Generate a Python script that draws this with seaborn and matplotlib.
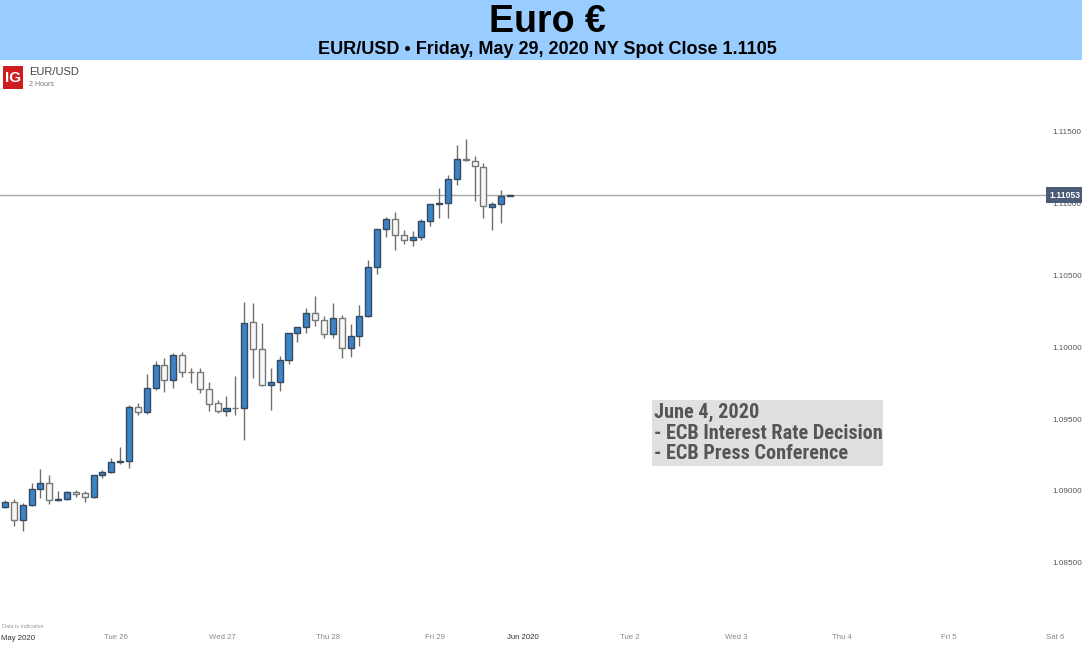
import pandas as pd
import seaborn as sns
import matplotlib.pyplot as plt
from matplotlib.patches import Rectangle

# EUR/USD 2-hour candles
opens = [1.08889, 1.08924, 1.08799, 1.08903, 1.09014, 1.09056, 1.08938, 1.08944, 1.08993, 1.08986,
         1.08958, 1.09111, 1.09132, 1.09201, 1.09208, 1.09583, 1.09549, 1.09715, 1.09875, 1.09771,
         1.09944, 1.09826, 1.09823, 1.09708, 1.09611, 1.09556, 1.09576, 1.09573, 1.10174, 1.09986,
         1.09736, 1.09757, 1.09910, 1.10097, 1.10139, 1.10236, 1.10188, 1.10090, 1.10201, 1.09993,
         1.10076, 1.10215, 1.10556, 1.10819, 1.10889, 1.10778, 1.10743, 1.10764, 1.10875, 1.10993,
         1.11000, 1.11167, 1.11306, 1.11292, 1.11250, 1.10972, 1.10993, 1.11049]
highs = [1.08938, 1.08944, 1.08917, 1.09056, 1.09153, 1.09111, 1.09000, 1.09000, 1.09007, 1.09000,
         1.09111, 1.09146, 1.09229, 1.09306, 1.09597, 1.09611, 1.09813, 1.09903, 1.09924, 1.09958,
         1.09965, 1.09854, 1.09854, 1.09757, 1.09632, 1.09660, 1.09799, 1.10313, 1.10306, 1.10167,
         1.09854, 1.09938, 1.10097, 1.10139, 1.10271, 1.10354, 1.10215, 1.10306, 1.10222, 1.10160,
         1.10292, 1.10604, 1.10819, 1.10903, 1.10938, 1.10813, 1.10806, 1.10889, 1.10993, 1.11104,
         1.11194, 1.11403, 1.11444, 1.11326, 1.11278, 1.11007, 1.11090, 1.11053]
lows = [1.08882, 1.08757, 1.08722, 1.08896, 1.08951, 1.08910, 1.08931, 1.08938, 1.08958, 1.08924,
        1.08951, 1.09090, 1.09125, 1.09188, 1.09160, 1.09528, 1.09535, 1.09701, 1.09688, 1.09715,
        1.09792, 1.09750, 1.09681, 1.09556, 1.09542, 1.09521, 1.09528, 1.09354, 1.09785, 1.09729,
        1.09563, 1.09694, 1.09882, 1.10035, 1.10097, 1.10146, 1.10063, 1.10063, 1.09924, 1.09931,
        1.10007, 1.10208, 1.10507, 1.10764, 1.10674, 1.10715, 1.10701, 1.10743, 1.10840, 1.10896,
        1.10896, 1.11125, 1.11292, 1.11014, 1.10896, 1.10813, 1.10861, 1.11049]
closes = [1.08924, 1.08799, 1.08903, 1.09014, 1.09056, 1.08938, 1.08944, 1.08993, 1.08979, 1.08958,
          1.09111, 1.09132, 1.09201, 1.09208, 1.09583, 1.09549, 1.09715, 1.09875, 1.09771, 1.09944,
          1.09826, 1.09823, 1.09708, 1.09604, 1.09556, 1.09576, 1.09573, 1.10167, 1.09986, 1.09736,
          1.09757, 1.09910, 1.10097, 1.10139, 1.10236, 1.10188, 1.10090, 1.10201, 1.09993, 1.10076,
          1.10215, 1.10556, 1.10819, 1.10889, 1.10778, 1.10743, 1.10764, 1.10875, 1.10993, 1.11000,
          1.11167, 1.11306, 1.11299, 1.11257, 1.10979, 1.10993, 1.11049, 1.11053]

last_price = 1.11053

# day labels, positioned in candle-index units (12 candles per day)
day_pos = [0.5, 12.5, 24.5, 36.5, 48.5, 58.5, 70.5, 82.5, 94.5, 106.5, 118.5]
day_labels = ['May 2020', 'Tue 26', 'Wed 27', 'Thu 28', 'Fri 29', 'Jun 2020',
              'Tue 2', 'Wed 3', 'Thu 4', 'Fri 5', 'Sat 6']
price_ticks = [1.085, 1.090, 1.095, 1.100, 1.105, 1.110, 1.115]

df = pd.DataFrame({'open': opens, 'high': highs, 'low': lows, 'close': closes})
df['idx'] = range(len(df))
df['up'] = df['close'] >= df['open']

sns.set_theme(style='white')
plt.rcParams['font.family'] = ['Liberation Sans', 'DejaVu Sans']

fig = plt.figure(figsize=(10.82, 6.57), dpi=100)

# header band
fig.patches.append(Rectangle((0, 597 / 657), 1, 60 / 657, transform=fig.transFigure,
                             facecolor='#99ccff', edgecolor='none', zorder=0))
fig.text(0.5055, 0.966, 'Euro \u20ac', ha='center', va='center', fontsize=27, fontweight='bold', color='black')
fig.text(0.5055, 0.925, 'EUR/USD \u2022 Friday, May 29, 2020 NY Spot Close 1.1105', ha='center', va='center',
         fontsize=13, fontweight='bold', color='black')

ax = fig.add_axes([0, 27 / 657, 1, 570 / 657])
ax.set_facecolor('white')
for s in ax.spines.values():
    s.set_visible(False)

blue = '#3d84c6'
body_w = 0.68

# wicks
ax.vlines(df['idx'], df['low'], df['high'], color='#6f6f6f', linewidth=1.0, zorder=2)

# bodies
for _, r in df.iterrows():
    lo = min(r['open'], r['close'])
    h = abs(r['close'] - r['open'])
    if r['up']:
        fc, ec = blue, '#34495e'
    else:
        fc, ec = '#f7f7f7', '#777777'
    ax.bar(r['idx'], max(h, 0.000012), bottom=lo, width=body_w, color=fc, edgecolor=ec,
           linewidth=1.0, zorder=3)

# last price line and tag
ax.axhline(last_price, xmin=0, xmax=1047 / 1082, color='#a8a8a8', linewidth=1.0, zorder=1)
ax.text(0.9985, last_price, '%.5f' % last_price, transform=ax.get_yaxis_transform(),
        ha='right', va='center', fontsize=6.2, fontweight='bold', color='white', zorder=5,
        bbox=dict(boxstyle='square,pad=0.4', facecolor='#4b5b73', edgecolor='none'))

ax.set_xlim(-0.564, 121.56)
ax.set_ylim(1.080347, 1.119931)

ax.yaxis.tick_right()
ax.set_yticks(price_ticks, ['%.5f' % t for t in price_ticks])
ax.tick_params(axis='y', length=0, pad=-21.6, labelsize=5.9, labelcolor='#555555')
for lab in ax.get_yticklabels():
    lab.set_zorder(0)

# first day label sits against the left edge, drawn separately
ax.set_xticks(day_pos, [''] + day_labels[1:])
ax.tick_params(axis='x', length=0, pad=3, labelsize=5.6, labelcolor='#888888')
for lab in ax.get_xticklabels():
    if '20' in lab.get_text():
        lab.set_color('#333333')
fig.text(1 / 1082, 1 - 638 / 657, day_labels[0], ha='left', va='center', fontsize=5.6, color='#333333')

# logo block and instrument name
fig.patches.append(Rectangle((3 / 1082, 1 - 89 / 657), 20 / 1082, 23 / 657, transform=fig.transFigure,
                             facecolor='#d01c1f', edgecolor='none'))
fig.text(13 / 1082, 1 - 78 / 657, 'IG', ha='center', va='center', fontsize=11, fontweight='bold', color='white')
fig.text(29 / 1082, 1 - 72 / 657, 'EUR/USD', ha='left', va='center', fontsize=8, color='#444444')
fig.text(29 / 1082, 1 - 85 / 657, '2 Hours', ha='left', va='center', fontsize=5, color='#777777')
fig.text(2 / 1082, 1 - 626 / 657, 'Data is indicative', ha='left', va='center', fontsize=4, color='#999999')

# event box
fig.patches.append(Rectangle((652 / 1082, 1 - 466 / 657), 231 / 1082, 66 / 657, transform=fig.transFigure,
                             facecolor='#e0e0e0', edgecolor='none'))
fig.text(654 / 1082, 1 - 433 / 657, 'June 4, 2020\n- ECB Interest Rate Decision\n- ECB Press Conference',
         ha='left', va='center', fontsize=14.6, fontweight='bold', color='#555555', linespacing=1.08,
         family=['Liberation Sans Narrow', 'DejaVu Sans Condensed', 'Roboto Condensed', 'Roboto'])

fig.savefig('out.png', dpi=100)
